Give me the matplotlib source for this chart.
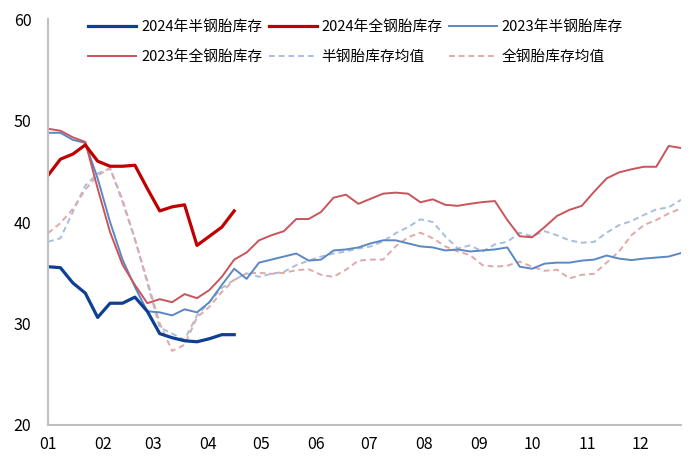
import numpy as np
import matplotlib
matplotlib.use('Agg')
import matplotlib.pyplot as plt

plt.rcParams['font.family'] = ['Noto Sans CJK SC', 'DejaVu Sans']

############################################### data (weekly, week index from 01-01)
month_labels = ['01', '02', '03', '04', '05', '06', '07', '08', '09', '10', '11', '12']
month_start_day = [0, 31, 59, 90, 120, 151, 181, 212, 243, 273, 304, 334]

semi_2024 = [35.6, 35.5, 34.0, 33.0, 30.6, 32.0, 32.0, 32.6, 31.2, 29.0, 28.6, 28.3,
             28.2, 28.5, 28.9, 28.9]
full_2024 = [44.6, 46.2, 46.7, 47.6, 46.0, 45.5, 45.5, 45.6, 43.3, 41.1, 41.5, 41.7,
             37.7, 38.6, 39.5, 41.1]
semi_2023 = [48.8, 48.8, 48.1, 47.8, 44.3, 40.0, 36.3, 33.6, 31.2, 31.1, 30.8, 31.4,
             31.1, 32.1, 33.8, 35.4, 34.4, 36.0, 36.3, 36.6, 36.9, 36.2, 36.3, 37.2,
             37.3, 37.5, 37.9, 38.2, 38.2, 37.9, 37.6, 37.5, 37.2, 37.3, 37.1, 37.2,
             37.3, 37.5, 35.6, 35.4, 35.9, 36.0, 36.0, 36.2, 36.3, 36.7, 36.4, 36.25,
             36.4, 36.5, 36.6, 36.95]
full_2023 = [49.2, 49.0, 48.35, 47.9, 43.3, 39.0, 35.8, 33.8, 32.0, 32.4, 32.1, 32.9,
             32.5, 33.3, 34.6, 36.3, 37.0, 38.2, 38.7, 39.1, 40.3, 40.3, 41.0, 42.4,
             42.7, 41.8, 42.3, 42.8, 42.9, 42.8, 41.95, 42.24, 41.7, 41.6, 41.8, 41.97,
             42.07, 40.2, 38.6, 38.5, 39.5, 40.6, 41.2, 41.6, 43.0, 44.3, 44.9, 45.2,
             45.45, 45.45, 47.5, 47.3]
semi_avg = [38.06, 38.4, 41.0, 43.6, 44.8, 45.3, 42.0, 38.3, 34.0, 29.6, 29.0, 28.4,
            30.8, 32.1, 33.5, 34.3, 34.95, 34.6, 34.9, 35.1, 35.75, 36.2, 36.6, 36.9,
            37.1, 37.4, 37.6, 38.1, 38.9, 39.5, 40.27, 40.0, 38.6, 37.4, 37.7, 37.1,
            37.8, 38.05, 38.95, 38.6, 39.1, 38.7, 38.2, 37.96, 38.05, 38.95, 39.7, 40.1,
            40.7, 41.25, 41.45, 42.2]
full_avg = [38.9, 39.9, 41.3, 43.2, 44.6, 45.3, 42.2, 38.3, 34.2, 30.0, 27.3, 27.9,
            30.6, 31.65, 33.1, 34.3, 34.95, 35.0, 34.9, 35.0, 35.25, 35.35, 34.8, 34.6,
            35.3, 36.2, 36.3, 36.3, 37.6, 38.5, 38.95, 38.4, 37.6, 37.1, 36.75, 35.75,
            35.6, 35.7, 36.1, 35.6, 35.2, 35.3, 34.45, 34.8, 34.9, 36.0, 37.1, 38.7,
            39.7, 40.2, 40.85, 41.35]

labels = ['2024年半钢胎库存', '2024年全钢胎库存', '2023年半钢胎库存',
          '2023年全钢胎库存', '半钢胎库存均值', '全钢胎库存均值']

############################################### plot
fig = plt.figure(figsize=(7, 4.67), dpi=100)
ax = fig.add_axes([0.0686, 0.09, 0.9044, 0.869])

weeks_full = np.arange(len(semi_2023))
weeks_2024 = np.arange(len(semi_2024))

h4 = ax.plot(weeks_full, semi_avg, color='#A7BEDD', lw=1.4, ls=(0, (3, 2)))[0]
h5 = ax.plot(weeks_full, full_avg, color='#DFA9A9', lw=1.4, ls=(0, (3, 2)))[0]
h2 = ax.plot(weeks_full, semi_2023, color='#5B87C5', lw=1.4)[0]
h3 = ax.plot(weeks_full, full_2023, color='#C9545A', lw=1.4)[0]
h1 = ax.plot(weeks_2024, full_2024, color='#C00000', lw=2.3)[0]
h0 = ax.plot(weeks_2024, semi_2024, color='#0E3F93', lw=2.3)[0]

# row-major legend with 3 columns
hs = [h0, h3, h1, h4, h2, h5]
ls = [labels[0], labels[3], labels[1], labels[4], labels[2], labels[5]]
ax.legend(hs, ls, ncol=3, frameon=False, loc='upper left',
          bbox_to_anchor=(0.043, 1.03), fontsize=10.6, handlelength=3.26,
          handletextpad=0.34, columnspacing=0.4, labelspacing=1.09)

ax.set_xlim(0, len(semi_2023) - 1)
ax.set_ylim(20, 60)
ax.set_yticks([20, 30, 40, 50, 60])
ax.set_xticks([d / 7 for d in month_start_day])
ax.set_xticklabels(month_labels)
ax.tick_params(length=0, labelsize=11.5, colors='black', pad=8)
ax.tick_params(axis='y', pad=12)

for s in ['top', 'right']:
    ax.spines[s].set_visible(False)
for s in ['left', 'bottom']:
    ax.spines[s].set_color('#BFBFBF')
    ax.spines[s].set_linewidth(1.5)

fig.savefig('out.png', dpi=100)
